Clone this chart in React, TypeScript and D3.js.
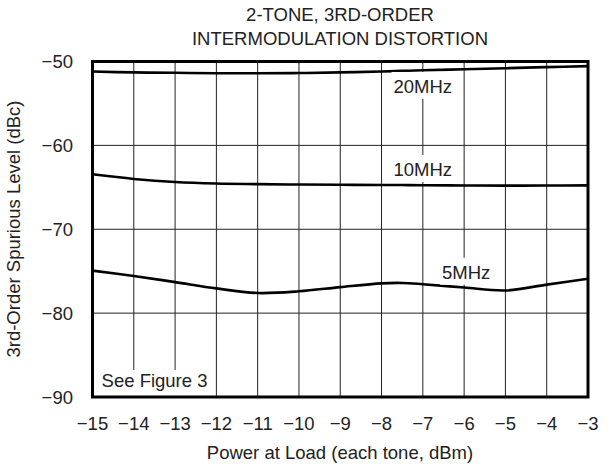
import React, { useEffect, useRef } from "react";
import * as d3 from "d3";

const xTicks = [-15, -14, -13, -12, -11, -10, -9, -8, -7, -6, -5, -4, -3];
const yTicks = [-90, -80, -70, -60, -50];

const power = [-15, -14, -13, -12, -11, -10, -9, -8, -7.5, -7, -6, -5, -4, -3];
const mhz20 = [-51.2, -51.3, -51.35, -51.4, -51.4, -51.38, -51.3, -51.2, -51.12, -51.05, -50.92, -50.8, -50.67, -50.55];
const mhz10 = [-63.45, -64.0, -64.37, -64.55, -64.62, -64.67, -64.7, -64.72, -64.73, -64.75, -64.78, -64.8, -64.78, -64.77];
const mhz5 = [-74.93, -75.57, -76.3, -77.05, -77.6, -77.4, -76.9, -76.45, -76.4, -76.55, -76.95, -77.3, -76.6, -75.9];

const series = [
  { name: "20MHz", values: mhz20, lx: -7.0, ly: -53.75 },
  { name: "10MHz", values: mhz10, lx: -7.0, ly: -63.65 },
  { name: "5MHz", values: mhz5, lx: -5.95, ly: -75.9 },
];

const W = 616;
const H = 466;
const FONT = "'Liberation Sans', Arial, Helvetica, sans-serif";
const FS = 18.5;
const INK = "#222";

export default function App() {
  const ref = useRef<SVGSVGElement>(null);

  useEffect(() => {
    const svg = d3.select(ref.current);
    svg.selectAll("*").remove();

    const x = d3.scaleLinear().domain([-15, -3]).range([92.5, 588]);
    const y = d3.scaleLinear().domain([-90, -50]).range([397, 61.5]);

    svg.append("rect").attr("width", W).attr("height", H).attr("fill", "#fff");

    // grid
    const g = svg.append("g");
    g.selectAll("line.vx")
      .data(xTicks.slice(1, -1))
      .enter()
      .append("line")
      .attr("x1", (d) => x(d))
      .attr("x2", (d) => x(d))
      .attr("y1", y(-50))
      .attr("y2", y(-90))
      .attr("stroke", "#222")
      .attr("stroke-width", 1);
    g.selectAll("line.hy")
      .data(yTicks.slice(1, -1))
      .enter()
      .append("line")
      .attr("x1", x(-15))
      .attr("x2", x(-3))
      .attr("y1", (d) => y(d))
      .attr("y2", (d) => y(d))
      .attr("stroke", "#222")
      .attr("stroke-width", 1);

    // curves
    const line = d3
      .line<number>()
      .x((_, i) => x(power[i]))
      .y((d) => y(d))
      .curve(d3.curveCatmullRom.alpha(0.5));
    series.forEach((s) => {
      svg
        .append("path")
        .attr("d", line(s.values) as string)
        .attr("fill", "none")
        .attr("stroke", "#000")
        .attr("stroke-width", 2.6);
    });

    // labels with white background
    const addLabel = (txt: string, px: number, py: number, anchor: string, padT: number, padB: number) => {
      const gl = svg.append("g");
      const r = gl.append("rect").attr("fill", "#fff");
      const t = gl
        .append("text")
        .attr("x", px)
        .attr("y", py)
        .attr("text-anchor", anchor)
        .attr("font-family", FONT)
        .attr("font-size", FS)
        .attr("fill", INK)
        .text(txt);
      const bb = (t.node() as SVGTextElement).getBBox();
      r.attr("x", bb.x - 2)
        .attr("y", bb.y - padT)
        .attr("width", bb.width + 4)
        .attr("height", bb.height + padT + padB);
    };
    series.forEach((s) => addLabel(s.name, x(s.lx), y(s.ly), "middle", 4, 2));
    addLabel("See Figure 3", x(-14.78), y(-88.8), "start", 0, 20);

    // frame
    svg
      .append("rect")
      .attr("x", x(-15))
      .attr("y", y(-50))
      .attr("width", x(-3) - x(-15))
      .attr("height", y(-90) - y(-50))
      .attr("fill", "none")
      .attr("stroke", "#000")
      .attr("stroke-width", 3);

    // tick labels
    svg
      .selectAll("text.xt")
      .data(xTicks)
      .enter()
      .append("text")
      .attr("x", (d) => x(d))
      .attr("y", 430)
      .attr("text-anchor", "middle")
      .attr("font-family", FONT)
      .attr("font-size", FS)
      .attr("fill", INK)
      .text((d) => "\u2212" + Math.abs(d));
    svg
      .selectAll("text.yt")
      .data(yTicks)
      .enter()
      .append("text")
      .attr("x", 73)
      .attr("y", (d) => y(d) + 6.5)
      .attr("text-anchor", "end")
      .attr("font-family", FONT)
      .attr("font-size", FS)
      .attr("fill", INK)
      .text((d) => "\u2212" + Math.abs(d));

    // axis titles
    svg
      .append("text")
      .attr("x", 340)
      .attr("y", 459)
      .attr("text-anchor", "middle")
      .attr("font-family", FONT)
      .attr("font-size", FS)
      .attr("fill", INK)
      .text("Power at Load (each tone, dBm)");
    svg
      .append("text")
      .attr("transform", "translate(20,229) rotate(-90)")
      .attr("text-anchor", "middle")
      .attr("font-family", FONT)
      .attr("font-size", FS)
      .attr("fill", INK)
      .text("3rd-Order Spurious Level (dBc)");

    // title
    const title = ["2-TONE, 3RD-ORDER", "INTERMODULATION DISTORTION"];
    svg
      .selectAll("text.title")
      .data(title)
      .enter()
      .append("text")
      .attr("x", 340)
      .attr("y", (_, i) => 21 + i * 23.5)
      .attr("text-anchor", "middle")
      .attr("font-family", FONT)
      .attr("font-size", FS)
      .attr("fill", INK)
      .text((d) => d);
  }, []);

  return (
    <svg
      ref={ref}
      width={W}
      height={H}
      style={{ position: "absolute", left: 0, top: 0, display: "block" }}
    />
  );
}
